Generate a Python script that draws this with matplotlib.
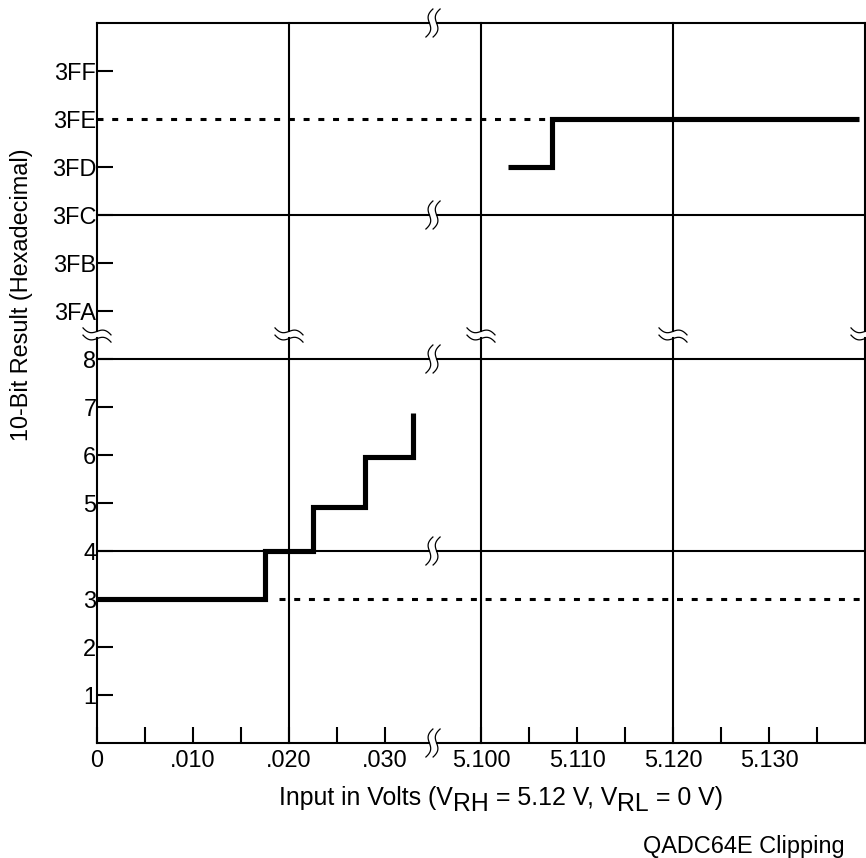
import numpy as np
import matplotlib
matplotlib.use("Agg")
import matplotlib.pyplot as plt
from matplotlib.transforms import IdentityTransform

plt.rcParams['font.family'] = ['Liberation Sans', 'DejaVu Sans']
plt.rcParams['lines.scale_dashes'] = False

# ---------------- data ----------------
# lower staircase: input voltage edges (V) and 10-bit result codes
low_edges_v = [0.0, 0.0175, 0.0225, 0.0279, 0.0329]
low_levels = [3, 4, 4.92, 5.96]
low_end_level = 6.88
# upper staircase (near VRH)
high_edges_v = [5.1028, 5.1074, 5.1394]
high_levels_hex = [0x3FD, 0x3FE]

# dashed reference levels
ref_low_code = 3
ref_low_start_v = 0.019
ref_high_code = 0x3FE
ref_high_end_v = 5.1074

# axis ticks / labels
x_tick_volts = [0.0, 0.010, 0.020, 0.030, 5.100, 5.110, 5.120, 5.130]
x_tick_labels = ['0', '.010', '.020', '.030', '5.100', '5.110', '5.120', '5.130']
x_minor_volts = [0.005, 0.015, 0.025, 5.105, 5.115, 5.125, 5.135]
y_tick_codes = [1, 2, 3, 4, 5, 6, 7, 8, 0x3FA, 0x3FB, 0x3FC, 0x3FD, 0x3FE, 0x3FF]
y_tick_labels = ['1', '2', '3', '4', '5', '6', '7', '8',
                 '3FA', '3FB', '3FC', '3FD', '3FE', '3FF']
x_grid_volts = [0.0, 0.020, 5.100, 5.120, 5.140]
y_grid_codes = [0, 4, 8, 0x3FC, 0x400]

# broken-axis mapping
X_BREAK_V = 0.035          # between .030 and 5.100
Y_BREAK = 8.5              # between 8 and 3FA
def xm(v):
    return v if v < 1 else v - 5.06
def ym(c):
    return c if c < 100 else c - 1009

# ---------------- figure ----------------
W, H = 866, 858
fig = plt.figure(figsize=(W / 100, H / 100), dpi=100)
ax = fig.add_axes([97 / W, 115 / H, 768 / W, 720 / H])
ax.set_xlim(0, 0.08)
ax.set_ylim(0, 15)
for s in ax.spines.values():
    s.set_visible(False)

FS = 16.9
FS_XL = 17.9
LW_GRID = 1.5

ax.set_xticks([xm(v) for v in x_tick_volts])
ax.set_xticklabels(x_tick_labels)
ax.set_xticks([xm(v) for v in x_minor_volts], minor=True)
ax.set_yticks([ym(c) for c in y_tick_codes])
ax.set_yticklabels(y_tick_labels)
ax.tick_params(axis='both', which='both', direction='in', length=11.5,
               width=LW_GRID, labelsize=FS, colors='black')
ax.tick_params(axis='x', which='both', pad=4.5)
ax.tick_params(axis='y', which='both', pad=0.5)
# no solid tick where the dashed 3FE line starts
for t, c in zip(ax.yaxis.get_major_ticks(), y_tick_codes):
    if c == ref_high_code:
        t.tick1line.set_visible(False)

# pixel helpers
def to_px(x, y):
    return ax.transData.transform((x, y))

xb_px = to_px(X_BREAK_V, 0)[0]
yb_px = to_px(0, Y_BREAK)[1]
inv = ax.transData.inverted()
HGAP = 4.0   # half gap in px for horizontal lines
VGAP = 3.5   # half gap in px for vertical lines
xg_lo = inv.transform((xb_px - HGAP, 0))[0]
xg_hi = inv.transform((xb_px + HGAP, 0))[0]
yg_lo = inv.transform((0, yb_px - VGAP))[1]
yg_hi = inv.transform((0, yb_px + VGAP))[1]

# frame and grid lines with breaks
for c in y_grid_codes:
    y = ym(c)
    ax.plot([0, xg_lo], [y, y], color='black', lw=LW_GRID, clip_on=False,
            solid_capstyle='projecting', zorder=2)
    ax.plot([xg_hi, 0.08], [y, y], color='black', lw=LW_GRID, clip_on=False,
            solid_capstyle='projecting', zorder=2)
for v in x_grid_volts:
    x = xm(v)
    ax.plot([x, x], [0, yg_lo], color='black', lw=LW_GRID, clip_on=False,
            solid_capstyle='projecting', zorder=2)
    ax.plot([x, x], [yg_hi, 15], color='black', lw=LW_GRID, clip_on=False,
            solid_capstyle='projecting', zorder=2)

# break symbols
t = np.linspace(-1, 1, 60)
f = 3.5 * t ** 3 - 1.6 * np.sin(np.pi * t)
for c in y_grid_codes:
    X, Y = to_px(X_BREAK_V, ym(c))
    for off in (-3.6, 3.6):
        ax.plot(X + off + f, Y + 14 * t, color='black', lw=0.9,
                transform=IdentityTransform(), clip_on=False, zorder=3)
for v in x_grid_volts:
    X, Y = to_px(xm(v), Y_BREAK)
    for off in (-3.6, 3.6):
        ax.plot(X + 14 * t, Y + off - f, color='black', lw=0.9,
                transform=IdentityTransform(), clip_on=False, zorder=3)

# dashed reference lines
ax.plot([xm(ref_low_start_v), 0.08], [ym(ref_low_code)] * 2, color='black',
        lw=2.2, dashes=(4.3, 6.3), zorder=2, clip_on=False)
ax.plot([0, xm(ref_high_end_v)], [ym(ref_high_code)] * 2, color='black',
        lw=2.2, dashes=(4.3, 6.3), zorder=2, clip_on=False)

# staircases
def stair(edges, levels, end_level=None):
    xs, ys = [], []
    for i, lv in enumerate(levels):
        xs += [xm(edges[i]), xm(edges[i + 1])]
        ys += [ym(lv), ym(lv)]
    if end_level is not None:
        xs.append(xm(edges[-1]))
        ys.append(ym(end_level))
    return xs, ys

lx, ly = stair(low_edges_v, low_levels, low_end_level)
ax.plot(lx, ly, color='black', lw=3.7, solid_joinstyle='miter',
        solid_capstyle='butt', zorder=4, clip_on=False)
hx, hy = stair(high_edges_v, high_levels_hex)
ax.plot(hx, hy, color='black', lw=3.7, solid_joinstyle='miter',
        solid_capstyle='butt', zorder=4, clip_on=False)

# y label
fig.text(22 / W, 1 - 295 / H, '10-Bit Result (Hexadecimal)', rotation=90,
         ha='center', va='center', fontsize=FS)

# x label built from pieces so subscripts stay full size
SUB = -6
x0 = 279 / W
ybase = 1 - 805 / H
t0 = fig.text(x0, ybase, 'Input in Volts (V', fontsize=FS_XL, ha='left', va='baseline')
pieces = [('RH', SUB), (' = 5.12 V, V', 0), ('RL', SUB), (' = 0 V)', 0)]
prev = t0
prev_off = 0
for txt, off in pieces:
    a = ax.annotate(txt, xy=(1, 0), xycoords=prev, xytext=(0, off - prev_off),
                    textcoords='offset pixels', fontsize=FS_XL, ha='left', va='bottom',
                    annotation_clip=False)
    prev = a
    prev_off = off

# caption
fig.text(845 / W, 1 - 853 / H, 'QADC64E Clipping', fontsize=FS, ha='right',
         va='baseline')

fig.savefig('out.png', dpi=100)
